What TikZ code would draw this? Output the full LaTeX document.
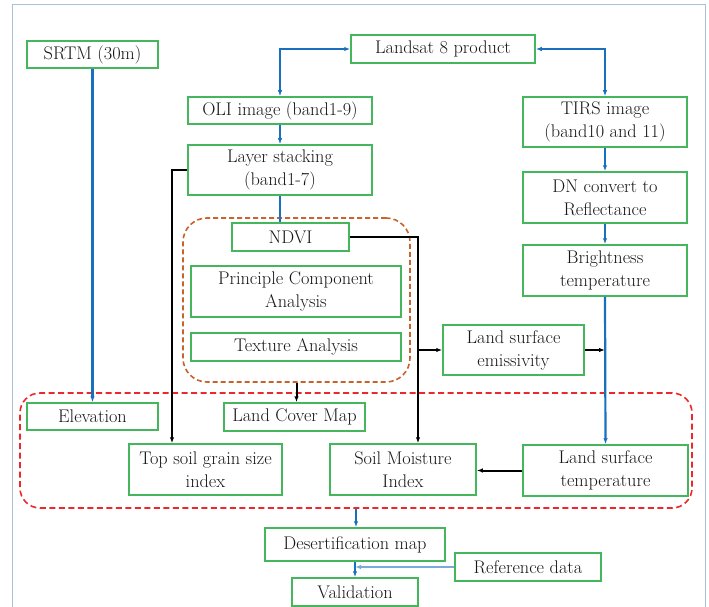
\documentclass[tikz,border=0pt]{standalone}
\usetikzlibrary{arrows.meta}
\definecolor{boxgreen}{RGB}{70,182,92}
\definecolor{lineblue}{RGB}{24,112,190}
\definecolor{lightblue}{RGB}{120,170,220}
\definecolor{framecol}{RGB}{170,192,216}
\definecolor{orangedash}{RGB}{197,100,45}
\definecolor{reddash}{RGB}{236,40,45}
\definecolor{txt}{RGB}{25,22,22}
\tikzset{
  box/.style={draw=boxgreen, line width=1.5pt, fill=white, text=txt, align=center, inner sep=0pt,
    font=\rmfamily\fontsize{18.3}{23}\selectfont},
  tip/.style={-{Latex[length=6pt,width=4.5pt]}},
  bl/.style={draw=lineblue, line width=2.2pt},
  blk/.style={draw=black, line width=2pt},
  lb/.style={draw=lightblue, line width=2pt},
  grpo/.style={draw=orangedash, line width=1.6pt, dash pattern=on 5pt off 3pt, rounded corners=24pt, inner sep=0pt},
  grpr/.style={draw=reddash, line width=1.6pt, dash pattern=on 6pt off 3.5pt, rounded corners=20pt, inner sep=0pt},
}
\begin{document}
\begin{tikzpicture}[x=1pt,y=-1pt]
\useasboundingbox (0,0) rectangle (709,607);
\draw[framecol, line width=1pt] (12,5) rectangle (705,620);

\node[grpo, minimum width=227pt, minimum height=164pt] (grp1) at (296.5,300) {};
\node[grpr, minimum width=672pt, minimum height=115pt] (grp2) at (356,450.5) {};

\node[box, minimum width=131pt, minimum height=27pt] (srtm) at (92.5,54.5) {SRTM (30m)};
\node[box, minimum width=184pt, minimum height=28pt] (landsat) at (443,49) {Landsat 8 product};
\node[box, minimum width=184pt, minimum height=27pt] (oli) at (280,110.5) {OLI image (band1-9)};
\node[box, minimum width=184pt, minimum height=50pt] (layer) at (280,170) {Layer stacking\\(band1-7)};
\node[box, minimum width=164pt, minimum height=50pt] (tirs) at (605,122) {TIRS image\\(band10 and 11)};
\node[box, minimum width=164pt, minimum height=51pt] (dn) at (605,197.5) {DN convert to\\Reflectance};
\node[box, minimum width=164pt, minimum height=51pt] (bright) at (605,270.5) {Brightness\\temperature};
\node[box, minimum width=117pt, minimum height=28pt] (ndvi) at (290.5,237) {NDVI};
\node[box, minimum width=210pt, minimum height=51pt] (pca) at (296,291.5) {Principle Component\\Analysis};
\node[box, minimum width=210pt, minimum height=28pt] (texture) at (296,347) {Texture Analysis};
\node[box, minimum width=141pt, minimum height=50pt] (lse) at (513.5,350) {Land surface\\emissivity};
\node[box, minimum width=131pt, minimum height=27pt] (elev) at (92.5,416.5) {Elevation};
\node[box, minimum width=141pt, minimum height=28pt] (lcm) at (294.5,417) {Land Cover Map};
\node[box, minimum width=153pt, minimum height=51pt] (topsoil) at (205.5,469.5) {Top soil grain size\\index};
\node[box, minimum width=146pt, minimum height=51pt] (smi) at (403,469.5) {Soil Moisture\\Index};
\node[box, minimum width=165pt, minimum height=51pt] (lst) at (605.5,470.5) {Land surface\\temperature};
\node[box, minimum width=180pt, minimum height=33pt] (desert) at (355,544.5) {Desertification map};
\node[box, minimum width=146pt, minimum height=28pt] (ref) at (528,567) {Reference data};
\node[box, minimum width=126pt, minimum height=28pt] (valid) at (355,592) {Validation};

\coordinate (j1) at (418,237);
\coordinate (j2) at (172,170);

% blue connectors
\draw[bl, {Latex[length=6pt,width=4.5pt]}-{Latex[length=6pt,width=4.5pt]}] (landsat.west) -| (oli.north);
\draw[bl, {Latex[length=6pt,width=4.5pt]}-{Latex[length=6pt,width=4.5pt]}] (landsat.east) -| (tirs.north);
\draw[bl, tip] (oli.south) -- (layer.north);
\draw[bl] (layer.south) -- (layer.south |- ndvi.north);
\draw[bl, tip] (tirs.south) -- (dn.north);
\draw[bl, tip] (dn.south) -- (bright.north);
\draw[bl, tip] (bright.south) -- (lst.north);
\draw[bl, tip] (srtm.south) -- (elev.north);
\draw[bl, tip] (grp2.south) -- (grp2.south |- desert.north);
\draw[bl, tip] (desert.south) -- (desert.south |- valid.north);
\draw[lb, tip] (ref.west) -- (desert.south |- ref.west);

% black connectors
\draw[blk, tip] (ndvi.east) -- (j1) -- (j1 |- smi.north);
\draw[blk, tip] (j1 |- lse.west) -- (lse.west);
\draw[blk, tip] (lse.east) -- (bright.south |- lse.east);
\draw[blk, tip] (layer.west) -- (j2) -- (j2 |- topsoil.north);
\draw[blk, tip] (grp1.south) -- (grp1.south |- lcm.north);
\draw[blk, tip] (lst.west) -- (lst.west -| smi.east);
\end{tikzpicture}
\end{document}
